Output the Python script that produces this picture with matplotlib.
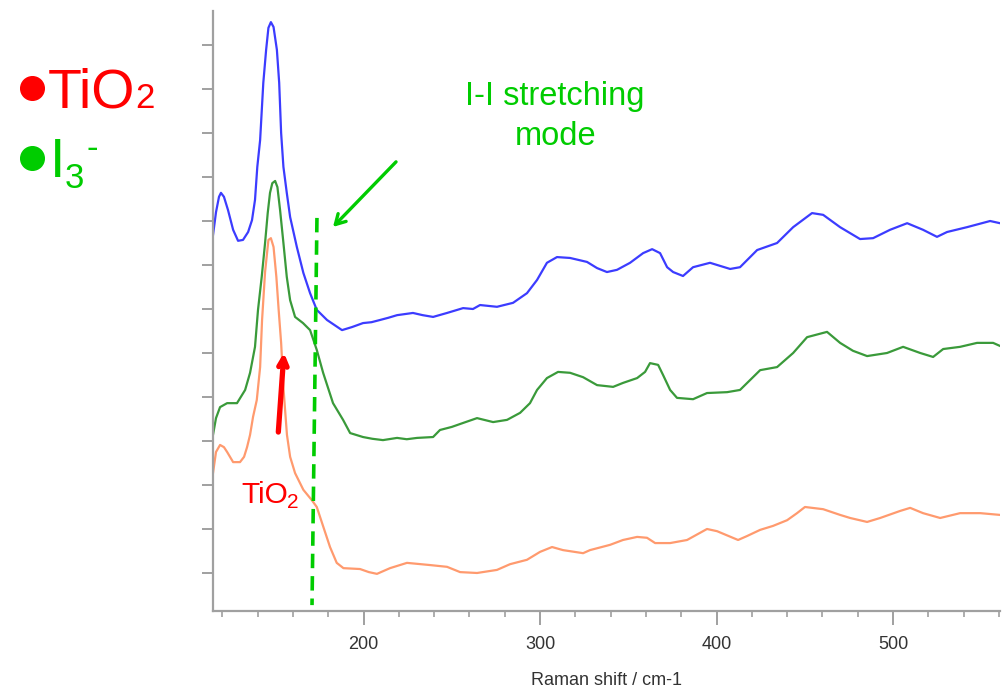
import matplotlib
matplotlib.use("Agg")
import matplotlib.pyplot as plt
from matplotlib.ticker import MultipleLocator
from matplotlib.lines import Line2D

plt.rcParams['font.family'] = ['Liberation Sans', 'DejaVu Sans']

# ---- data (Raman shift in cm-1, intensity in offset units) ----
blue_x = [114.7, 116.4, 118.1, 119.2, 120.9, 123.2, 126.1, 128.9, 131.7, 134.6, 136.8, 138.5,
          139.8, 141.4, 143.2, 144.8, 146.1, 147.5, 149.0, 150.9, 152.2, 153.3, 154.6, 156.5,
          158.4, 162.2, 165.9, 169.7, 173.5, 179.3, 187.8, 193.5, 199.7, 204.5, 209.3, 214.0,
          219.0, 228.0, 233.5, 239.4, 247.3, 256.4, 262.0, 266.0, 275.6, 284.7, 292.6, 298.3,
          303.9, 309.6, 317.0, 326.6, 332.3, 337.9, 343.6, 351.0, 358.4, 363.5, 368.0, 372.0,
          375.4, 381.0, 386.7, 396.3, 407.7, 413.3, 423.0, 434.3, 443.4, 454.1, 460.4, 470.0,
          481.3, 488.7, 498.3, 508.0, 517.0, 524.9, 530.6, 541.9, 555.0, 560.6]
blue_y = [7.68, 8.20, 8.55, 8.64, 8.55, 8.25, 7.80, 7.55, 7.57, 7.75, 8.02, 8.48,
          9.23, 9.84, 11.14, 11.89, 12.39, 12.52, 12.41, 11.89, 11.14, 10.00, 9.23, 8.64,
          8.09, 7.41, 6.82, 6.36, 5.98, 5.75, 5.52, 5.59, 5.68, 5.70, 5.75, 5.80,
          5.86, 5.91, 5.86, 5.82, 5.91, 6.02, 6.00, 6.09, 6.05, 6.14, 6.36, 6.66,
          7.05, 7.18, 7.16, 7.07, 6.93, 6.84, 6.89, 7.05, 7.27, 7.36, 7.27, 6.95,
          6.84, 6.75, 6.95, 7.05, 6.91, 6.95, 7.34, 7.50, 7.86, 8.18, 8.14, 7.86,
          7.59, 7.61, 7.80, 7.95, 7.80, 7.64, 7.75, 7.86, 8.00, 7.95]

green_x = [114.7, 116.4, 118.7, 122.7, 128.3, 132.9, 135.7, 138.5, 140.2, 142.3, 144.2, 145.7,
           147.0, 148.3, 149.9, 151.2, 152.7, 154.6, 156.5, 158.4, 161.2, 165.7, 169.7, 173.5,
           177.1, 182.7, 188.4, 192.4, 199.7, 205.0, 211.0, 219.0, 224.5, 230.3, 239.4, 243.3,
           250.0, 256.4, 264.3, 273.4, 281.3, 288.7, 294.3, 298.3, 303.9, 310.2, 317.0, 324.4,
           332.3, 341.4, 347.0, 355.0, 359.5, 362.3, 366.9, 369.7, 373.7, 377.6, 386.7, 394.6,
           406.0, 413.3, 424.7, 434.3, 443.4, 451.3, 462.6, 470.0, 477.3, 485.3, 496.6, 505.7,
           515.4, 522.7, 528.4, 538.0, 547.6, 556.7, 560.6]
green_y = [3.14, 3.52, 3.77, 3.86, 3.86, 4.16, 4.55, 5.14, 5.98, 6.73, 7.50, 8.18,
           8.64, 8.86, 8.91, 8.77, 8.25, 7.50, 6.73, 6.20, 5.82, 5.68, 5.52, 5.07,
           4.55, 3.86, 3.48, 3.18, 3.09, 3.05, 3.02, 3.07, 3.04, 3.07, 3.09, 3.25,
           3.32, 3.41, 3.52, 3.43, 3.48, 3.64, 3.86, 4.16, 4.43, 4.57, 4.55, 4.45,
           4.27, 4.23, 4.32, 4.43, 4.57, 4.77, 4.73, 4.50, 4.16, 3.98, 3.95, 4.09,
           4.11, 4.16, 4.61, 4.68, 5.00, 5.36, 5.48, 5.23, 5.05, 4.93, 5.00, 5.14,
           5.00, 4.91, 5.09, 5.14, 5.23, 5.23, 5.16]

orange_x = [114.7, 116.4, 118.7, 120.9, 122.7, 126.1, 130.0, 132.3, 134.0, 135.7, 137.4, 139.5,
            141.4, 142.5, 144.2, 146.1, 147.5, 149.0, 150.6, 151.9, 153.3, 154.7, 156.6, 158.4,
            161.2, 165.9, 170.6, 173.5, 177.2, 181.0, 184.8, 188.6, 198.0, 203.0, 207.6, 215.0,
            224.6, 237.7, 247.3, 254.7, 264.3, 275.6, 283.0, 292.6, 300.0, 306.8, 313.0, 324.4,
            328.3, 339.7, 347.0, 355.0, 360.6, 365.2, 373.7, 383.3, 394.6, 400.3, 412.2, 417.3,
            424.7, 432.0, 440.0, 445.6, 450.1, 460.4, 470.0, 475.7, 485.3, 492.7, 504.0, 509.7,
            517.0, 526.7, 538.0, 549.4, 560.6]
orange_y = [2.27, 2.75, 2.91, 2.86, 2.75, 2.52, 2.52, 2.64, 2.86, 3.14, 3.55, 3.93,
            4.68, 5.75, 6.84, 7.57, 7.61, 7.41, 6.73, 5.98, 5.23, 4.16, 3.14, 2.64,
            2.27, 1.89, 1.66, 1.50, 1.05, 0.59, 0.23, 0.11, 0.09, 0.02, -0.02, 0.11,
            0.23, 0.18, 0.14, 0.02, 0.00, 0.07, 0.20, 0.30, 0.48, 0.59, 0.52, 0.45,
            0.52, 0.64, 0.75, 0.82, 0.80, 0.68, 0.68, 0.75, 1.00, 0.95, 0.75, 0.84,
            0.98, 1.07, 1.20, 1.36, 1.50, 1.45, 1.32, 1.25, 1.16, 1.25, 1.41, 1.48,
            1.36, 1.25, 1.36, 1.36, 1.32]

x_major = [200, 300, 400, 500]
x_major_labels = ['200', '300', '400', '500']
y_ticks = list(range(0, 13))

W, H = 1007, 694
fig = plt.figure(figsize=(W / 100, H / 100), dpi=100)
ax = fig.add_axes([213 / W, 1 - 611 / H, (1000 - 213) / W, (611 - 11) / H])

ax.plot(blue_x, blue_y, color='#3c3cff', lw=1.6, solid_joinstyle='round')
ax.plot(green_x, green_y, color='#3a9a3a', lw=1.6, solid_joinstyle='round')
ax.plot(orange_x, orange_y, color='#ff9a6e', lw=1.6, solid_joinstyle='round')

ax.set_xlim(114.7, 560.6)
ax.set_ylim(-0.864, 12.773)

for s in ['top', 'right']:
    ax.spines[s].set_visible(False)
for s in ['left', 'bottom']:
    ax.spines[s].set_color('#a0a0a0')
    ax.spines[s].set_linewidth(1.6)

ax.set_xticks(x_major)
ax.set_xticklabels(x_major_labels)
ax.xaxis.set_minor_locator(MultipleLocator(20))
ax.set_yticks(y_ticks)
ax.set_yticklabels([])
ax.tick_params(axis='x', which='major', length=10, width=1.4, color='#a0a0a0',
               labelsize=13, labelcolor='#333333', pad=8)
ax.tick_params(axis='x', which='minor', length=4, width=1.2, color='#a0a0a0')
ax.tick_params(axis='y', which='major', length=8, width=1.4, color='#a0a0a0')
ax.set_xlabel('Raman shift / cm-1', fontsize=13, color='#333333', labelpad=14)

# green dashed marker line
ax.plot([173.6, 170.8], [8.07, -0.73], color='#00cc00', lw=2.6,
        linestyle=(0, (4, 2.2)))

# arrows
ax.annotate('', xy=(181.6, 7.82), xytext=(219.5, 9.39),
            arrowprops=dict(arrowstyle='->,head_length=0.7,head_width=0.4',
                            color='#00cc00', lw=2.4))
ax.annotate('', xy=(155.0, 5.07), xytext=(151.6, 3.14),
            arrowprops=dict(arrowstyle='->,head_length=0.6,head_width=0.3',
                            color='#ff0000', lw=3.8))

def ftext(x, y, s, size, color, ha='left', va='baseline'):
    fig.text(x / W, 1 - y / H, s, fontsize=size, color=color, ha=ha, va=va)

# annotation texts
ftext(555, 105, 'I-I stretching', 23.5, '#00cc00', ha='center')
ftext(556, 145, 'mode', 23.5, '#00cc00', ha='center')
ftext(241, 503, 'TiO', 21.5, '#ff0000')
ftext(287, 508, '2', 15, '#ff0000')

# top-left legend
fig.add_artist(Line2D([32 / W], [1 - 88 / H], marker='o', markersize=17,
                      color='#ff0000', transform=fig.transFigure))
fig.add_artist(Line2D([32 / W], [1 - 158 / H], marker='o', markersize=17,
                      color='#00cc00', transform=fig.transFigure))
ftext(48, 108, 'TiO', 40, '#ff0000')
ftext(135, 108, '2', 25, '#ff0000')
ftext(50, 177, 'I', 40, '#00cc00')
ftext(65, 188, '3', 25, '#00cc00')
ftext(87, 158, '-', 25, '#00cc00')

fig.savefig('out.png', dpi=100)
